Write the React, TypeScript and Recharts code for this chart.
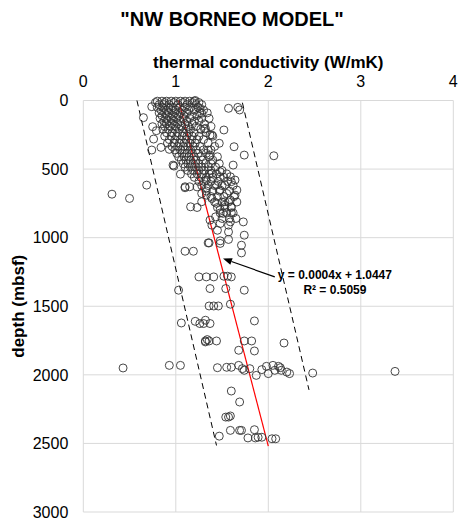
import {
  ScatterChart,
  Scatter,
  XAxis,
  YAxis,
  CartesianGrid,
  ReferenceLine,
  ReferenceDot,
} from 'recharts'

// [thermal conductivity (W/mK), depth (mbsf)]
const shallowCluster: [number, number][] = [
  [0.80, 5], [0.85, 5], [0.90, 5], [0.95, 5], [1.00, 5], [1.05, 5], [1.10, 5], [1.15, 5], [1.20, 5],
  [0.78, 15], [0.88, 15], [0.98, 15], [1.08, 15], [1.18, 15], [1.25, 15],
  [0.82, 30], [0.87, 30], [0.93, 30], [1.02, 30], [1.12, 30], [1.22, 30], [1.28, 30],
  [0.80, 50], [0.86, 50], [0.92, 50], [0.97, 50], [1.04, 50], [1.10, 50], [1.16, 50], [1.24, 50],
  [0.84, 70], [0.90, 70], [0.95, 70], [1.00, 70], [1.07, 70], [1.14, 70], [1.20, 70], [1.30, 70],
  [0.82, 90], [0.88, 90], [0.93, 90], [0.99, 90], [1.05, 90], [1.12, 90], [1.26, 90], [1.34, 90],
  [0.85, 110], [0.91, 110], [0.97, 110], [1.03, 110], [1.09, 110], [1.17, 110], [1.23, 110],
  [0.83, 130], [0.89, 130], [0.95, 130], [1.01, 130], [1.08, 130], [1.15, 130], [1.28, 130], [1.36, 130],
  [0.87, 150], [0.92, 150], [0.98, 150], [1.05, 150], [1.12, 150], [1.20, 150], [1.25, 150],
  [0.85, 170], [0.90, 170], [0.96, 170], [1.02, 170], [1.10, 170], [1.18, 170], [1.31, 170],
  [0.88, 190], [0.94, 190], [1.00, 190], [1.06, 190], [1.13, 190], [1.22, 190], [1.38, 190],
  [0.86, 210], [0.92, 210], [0.99, 210], [1.04, 210], [1.11, 210], [1.16, 210], [1.27, 210],
  [0.90, 235], [0.96, 235], [1.02, 235], [1.08, 235], [1.14, 235], [1.20, 235], [1.33, 235],
  [0.88, 260], [0.95, 260], [1.01, 260], [1.07, 260], [1.12, 260], [1.18, 260], [1.25, 260], [1.40, 260],
  [0.93, 285], [0.99, 285], [1.05, 285], [1.11, 285], [1.17, 285], [1.23, 285], [1.30, 285],
  [0.91, 310], [0.98, 310], [1.04, 310], [1.09, 310], [1.15, 310], [1.21, 310], [1.35, 310],
  [0.96, 335], [1.02, 335], [1.08, 335], [1.13, 335], [1.19, 335], [1.26, 335], [1.42, 335],
  [0.99, 360], [1.05, 360], [1.10, 360], [1.16, 360], [1.22, 360], [1.30, 360], [1.38, 360],
  [1.01, 385], [1.07, 385], [1.12, 385], [1.18, 385], [1.24, 385], [1.33, 385],
  [1.03, 410], [1.09, 410], [1.14, 410], [1.20, 410], [1.27, 410], [1.36, 410], [1.45, 410],
  [1.06, 435], [1.11, 435], [1.16, 435], [1.22, 435], [1.29, 435], [1.40, 435],
  [1.08, 460], [1.13, 460], [1.19, 460], [1.25, 460], [1.32, 460], [1.38, 460], [1.47, 460],
  [1.10, 485], [1.16, 485], [1.22, 485], [1.28, 485], [1.35, 485], [1.43, 485],
  [1.13, 510], [1.19, 510], [1.25, 510], [1.31, 510], [1.38, 510], [1.50, 510],
  [1.17, 535], [1.23, 535], [1.29, 535], [1.36, 535], [1.44, 535], [1.55, 535],
  [1.20, 560], [1.27, 560], [1.33, 560], [1.40, 560], [1.52, 560],
  [1.25, 590], [1.31, 590], [1.38, 590], [1.46, 590], [1.56, 590],
  [1.28, 620], [1.35, 620], [1.42, 620], [1.50, 620], [1.62, 620],
  [1.33, 660], [1.40, 660], [1.47, 660], [1.58, 660],
  [1.38, 700], [1.45, 700], [1.52, 700], [1.63, 700],
  [1.42, 740], [1.50, 740], [1.57, 740], [1.66, 740],
  [1.45, 780], [1.53, 780], [1.60, 780],
  [1.48, 820], [1.55, 820], [1.62, 820],
  [1.50, 860], [1.58, 860], [1.65, 860],
]

const shallowScatter: [number, number][] = [
  [1.21, 0], [1.26, 57], [1.28, 93], [1.32, 203], [1.37, 252], [1.35, 361], [1.37, 398],
  [1.57, 57], [1.67, 50], [1.69, 69], [1.52, 215], [1.47, 312], [1.63, 337], [1.74, 398],
  [1.62, 471], [1.48, 520], [2.06, 403], [1.31, 208], [1.39, 252],
  [0.65, 125], [0.74, 45], [0.75, 191], [0.76, 281], [0.74, 361], [0.84, 342], [0.97, 471],
  [0.79, 220], [0.93, 356], [0.98, 478],
  [0.31, 683], [0.50, 714], [0.685, 617],
  [1.05, 537], [1.10, 629], [1.15, 629], [1.23, 630], [1.10, 636],
  [1.16, 775], [1.23, 780], [1.28, 738], [1.33, 690], [1.33, 580], [1.39, 531],
  [1.33, 641], [1.28, 678], [1.39, 714], [1.44, 617], [1.48, 556], [1.59, 556],
  [1.60, 592], [1.64, 580], [1.66, 653], [1.64, 690], [1.55, 678], [1.48, 653],
  [1.53, 617], [1.59, 726], [1.53, 738], [1.44, 750], [1.60, 775], [1.48, 794],
]

const midPoints: [number, number][] = [
  [1.37, 872], [1.39, 909], [1.43, 848], [1.48, 897], [1.45, 946], [1.57, 909],
  [1.57, 958], [1.59, 885], [1.51, 823], [1.53, 763], [1.60, 819], [1.73, 885],
  [1.74, 982], [1.71, 1055], [1.57, 1013], [1.48, 1023], [1.36, 1038], [1.35, 1038],
  [1.10, 1099], [1.19, 1099], [1.48, 1042], [1.71, 1111],
  [1.25, 1286], [1.33, 1286], [1.41, 1286], [1.52, 1281], [1.56, 1281], [1.60, 1286],
  [1.03, 1383], [1.37, 1371], [1.54, 1371], [1.74, 1383],
  [1.36, 1498], [1.41, 1498], [1.46, 1498], [1.59, 1485],
  [1.06, 1622], [1.21, 1610], [1.26, 1626], [1.30, 1626], [1.32, 1602], [1.37, 1626], [1.85, 1607],
  [1.32, 1753], [1.34, 1743], [1.36, 1753], [1.44, 1753], [1.32, 1760],
  [1.74, 1753], [1.82, 1753], [1.68, 1821], [1.85, 1826], [2.17, 1768],
]

const deepPoints: [number, number][] = [
  [0.43, 1950], [0.93, 1931], [1.05, 1931], [1.45, 1948], [1.55, 1945], [1.60, 1945],
  [1.68, 1931], [1.72, 1955], [1.74, 1967], [1.80, 1955], [1.87, 2004], [1.93, 1962],
  [1.98, 1938], [2.00, 1991], [2.05, 1931], [2.07, 1967], [2.11, 1938], [2.13, 1948],
  [2.14, 1967], [2.20, 1980], [2.23, 1991], [2.48, 1987], [3.37, 1975],
  [1.60, 2118], [1.69, 2198], [1.54, 2308], [1.57, 2308], [1.59, 2300],
  [1.47, 2447], [1.59, 2405], [1.69, 2405], [1.71, 2405], [1.85, 2400],
  [1.78, 2460], [1.86, 2460], [1.89, 2455], [1.93, 2455], [2.04, 2466], [2.08, 2466],
]

const xTicks = [0, 1, 2, 3, 4]
const yTicks = [0, 500, 1000, 1500, 2000, 2500, 3000]

// trend line and envelope end points
const trendLine = [{ x: 1.03, y: 0 }, { x: 2.0, y: 2520 }]
const lowerBound = [{ x: 0.58, y: 0 }, { x: 1.44, y: 2515 }]
const upperBound = [{ x: 1.72, y: 16 }, { x: 2.44, y: 2110 }]
const arrow = [{ x: 2.07, y: 1286 }, { x: 1.51, y: 1152 }]
const equationAt = { x: 2.72, y: 1274 }
const equationText = 'y = 0.0004x + 1.0447'
const r2Text = 'R² = 0.5059'

const points = [...shallowCluster, ...shallowScatter, ...midPoints, ...deepPoints].map(([x, y]) => ({ x, y }))

const font = '"Liberation Sans", Arial, sans-serif'

const OpenCircle = (props: any) => (
  <circle cx={props.cx} cy={props.cy} r={4} fill="none" stroke="#333" strokeWidth={0.9} />
)

const ArrowShape = (props: any) => {
  const { x1, y1, x2, y2 } = props
  const ang = Math.atan2(y2 - y1, x2 - x1)
  const len = 9
  const w = 3.5
  const bx = x2 - len * Math.cos(ang)
  const by = y2 - len * Math.sin(ang)
  const px = -Math.sin(ang) * w
  const py = Math.cos(ang) * w
  return (
    <g>
      <line x1={x1} y1={y1} x2={bx} y2={by} stroke="#000" strokeWidth={1.2} />
      <polygon points={`${x2},${y2} ${bx + px},${by + py} ${bx - px},${by - py}`} fill="#000" />
    </g>
  )
}

const EquationShape = (props: any) => (
  <g fontFamily={font} fontWeight="bold" fontSize={12} fill="#000" textAnchor="middle">
    <text x={props.cx} y={props.cy + 4}>{equationText}</text>
    <text x={props.cx} y={props.cy + 19}>{r2Text}</text>
  </g>
)

export default function App() {
  return (
    <div style={{ position: 'absolute', left: 0, top: 0, width: 458, height: 521, background: '#fff', fontFamily: font }}>
      <div
        style={{
          position: 'absolute',
          left: 3,
          top: 9,
          width: 458,
          textAlign: 'center',
          fontSize: 20,
          lineHeight: '20px',
          fontWeight: 'bold',
          color: '#000',
        }}
      >
        "NW BORNEO MODEL"
      </div>
      <ScatterChart width={458} height={521} margin={{ top: 0, right: 4.7, bottom: 9, left: 0 }}>
        <CartesianGrid stroke="#d9d9d9" strokeWidth={1} />
        <XAxis
          type="number"
          dataKey="x"
          orientation="top"
          domain={[0, 4]}
          ticks={xTicks}
          height={100.5}
          axisLine={false}
          tickLine={false}
          tickSize={0}
          tickMargin={14}
          tick={{ fill: '#000', fontSize: 16, fontFamily: font }}
          label={{
            value: 'thermal conductivity (W/mK)',
            position: 'insideTop',
            offset: 56,
            style: { fontWeight: 'bold', fontSize: 17, fill: '#000', fontFamily: font },
          }}
        />
        <YAxis
          type="number"
          dataKey="y"
          domain={[0, 3000]}
          ticks={yTicks}
          reversed
          width={83.3}
          axisLine={false}
          tickLine={false}
          tickSize={0}
          tickMargin={15}
          tick={{ fill: '#000', fontSize: 16, fontFamily: font }}
          label={{
            value: 'depth (mbsf)',
            angle: -90,
            position: 'insideLeft',
            offset: 18,
            style: { textAnchor: 'middle', fontWeight: 'bold', fontSize: 17, fill: '#000', fontFamily: font },
          }}
        />
        <Scatter data={points} shape={OpenCircle} isAnimationActive={false} />
        <ReferenceLine segment={lowerBound} stroke="#000" strokeWidth={1} strokeDasharray="6 4" />
        <ReferenceLine segment={upperBound} stroke="#000" strokeWidth={1} strokeDasharray="6 4" />
        <ReferenceLine segment={trendLine} stroke="#ff0000" strokeWidth={1.2} />
        <ReferenceLine segment={arrow} shape={ArrowShape} />
        <ReferenceDot x={equationAt.x} y={equationAt.y} shape={EquationShape} />
      </ScatterChart>
    </div>
  )
}
